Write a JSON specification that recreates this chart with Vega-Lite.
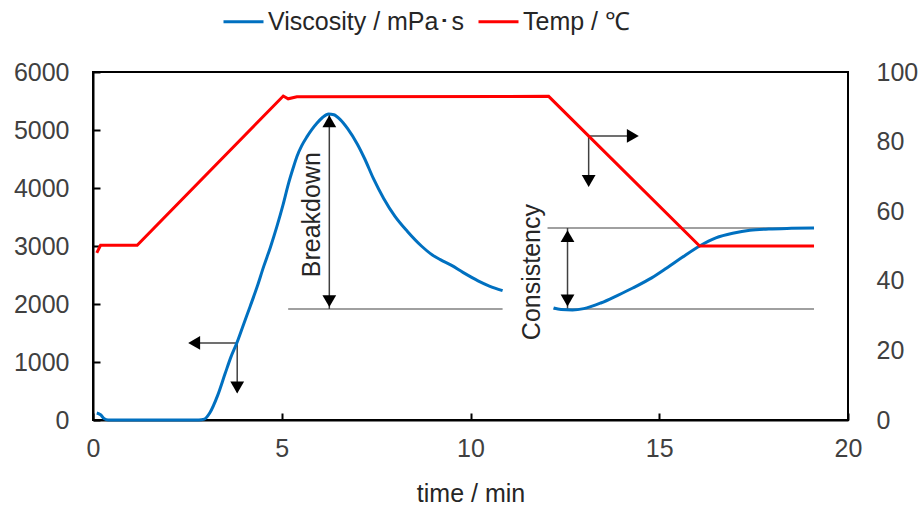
{
  "$schema": "https://vega.github.io/schema/vega-lite/v6.json",
  "width": 755,
  "height": 348,
  "autosize": "none",
  "padding": {"left": 93, "top": 72, "right": 76, "bottom": 90},
  "background": "white",
  "config": {
    "font": "Liberation Sans",
    "view": {"stroke": "#000000", "strokeWidth": 2},
    "axis": {"grid": false, "domainColor": "#000000", "domainWidth": 2, "tickColor": "#000000", "tickWidth": 2, "labelFontSize": 25, "labelColor": "#404040", "labelFont": "Liberation Sans", "titleFont": "Liberation Sans", "titleFontSize": 25, "titleFontWeight": "normal", "titleColor": "#262626", "labelFlush": false, "format": "d"},
    "axisLeft": {"tickSize": -7, "labelPadding": 31},
    "axisRight": {"ticks": false, "labelPadding": 28, "domain": false},
    "axisBottom": {"tickSize": -7, "labelPadding": 23, "titlePadding": 20},
    "legend": {"orient": "none", "legendX": 129, "legendY": -72, "direction": "horizontal", "symbolType": "stroke", "symbolSize": 1600, "symbolStrokeWidth": 3, "labelFontSize": 25, "labelColor": "#262626", "labelFont": "Liberation Sans", "labelOffset": 3, "columnPadding": 8, "labelLimit": 400, "title": null}
  },
  "datasets": {
    "visc": [
      {"t": 0.1, "v": 120, "seg": 1}, {"t": 0.2, "v": 90, "seg": 1}, {"t": 0.3, "v": 20, "seg": 1}, {"t": 0.4, "v": 0, "seg": 1},
      {"t": 1.0, "v": 0, "seg": 1}, {"t": 2.0, "v": 0, "seg": 1}, {"t": 2.8, "v": 0, "seg": 1}, {"t": 2.95, "v": 15, "seg": 1},
      {"t": 3.1, "v": 130, "seg": 1}, {"t": 3.3, "v": 420, "seg": 1}, {"t": 3.5, "v": 800, "seg": 1}, {"t": 3.65, "v": 1080, "seg": 1},
      {"t": 3.81, "v": 1328, "seg": 1}, {"t": 4.0, "v": 1670, "seg": 1}, {"t": 4.16, "v": 1954, "seg": 1}, {"t": 4.35, "v": 2300, "seg": 1},
      {"t": 4.52, "v": 2644, "seg": 1}, {"t": 4.7, "v": 2980, "seg": 1}, {"t": 4.87, "v": 3333, "seg": 1}, {"t": 5.03, "v": 3700, "seg": 1},
      {"t": 5.18, "v": 4080, "seg": 1}, {"t": 5.3, "v": 4340, "seg": 1}, {"t": 5.4, "v": 4540, "seg": 1}, {"t": 5.53, "v": 4730, "seg": 1},
      {"t": 5.67, "v": 4885, "seg": 1}, {"t": 5.8, "v": 5010, "seg": 1}, {"t": 5.93, "v": 5115, "seg": 1}, {"t": 6.08, "v": 5215, "seg": 1},
      {"t": 6.24, "v": 5276, "seg": 1}, {"t": 6.38, "v": 5262, "seg": 1}, {"t": 6.55, "v": 5180, "seg": 1}, {"t": 6.75, "v": 5020, "seg": 1},
      {"t": 7.0, "v": 4760, "seg": 1}, {"t": 7.2, "v": 4500, "seg": 1}, {"t": 7.43, "v": 4160, "seg": 1}, {"t": 7.7, "v": 3820, "seg": 1},
      {"t": 8.0, "v": 3510, "seg": 1}, {"t": 8.33, "v": 3250, "seg": 1}, {"t": 8.7, "v": 3000, "seg": 1}, {"t": 9.0, "v": 2840, "seg": 1},
      {"t": 9.2, "v": 2765, "seg": 1}, {"t": 9.5, "v": 2665, "seg": 1}, {"t": 9.8, "v": 2545, "seg": 1}, {"t": 10.2, "v": 2400, "seg": 1},
      {"t": 10.5, "v": 2310, "seg": 1}, {"t": 10.85, "v": 2230, "seg": 1},
      {"t": 12.2, "v": 1931, "seg": 2}, {"t": 12.4, "v": 1905, "seg": 2}, {"t": 12.7, "v": 1897, "seg": 2}, {"t": 13.0, "v": 1920, "seg": 2},
      {"t": 13.45, "v": 2017, "seg": 2}, {"t": 13.9, "v": 2150, "seg": 2}, {"t": 14.3, "v": 2276, "seg": 2}, {"t": 14.8, "v": 2450, "seg": 2},
      {"t": 15.2, "v": 2621, "seg": 2}, {"t": 15.6, "v": 2800, "seg": 2}, {"t": 16.07, "v": 3000, "seg": 2}, {"t": 16.5, "v": 3140, "seg": 2},
      {"t": 16.98, "v": 3224, "seg": 2}, {"t": 17.4, "v": 3270, "seg": 2}, {"t": 17.9, "v": 3293, "seg": 2}, {"t": 18.5, "v": 3305, "seg": 2},
      {"t": 19.1, "v": 3312, "seg": 2}
    ],
    "temp": [
      {"t": 0.1, "c": 48}, {"t": 0.2, "c": 50.2}, {"t": 1.17, "c": 50.2}, {"t": 5.04, "c": 93.1},
      {"t": 5.17, "c": 92.3}, {"t": 5.4, "c": 92.9}, {"t": 12.07, "c": 93.0}, {"t": 16.07, "c": 50.0}, {"t": 19.1, "c": 50.0}
    ],
    "hlines": [
      {"t": 5.17, "t2": 10.85, "v": 1914},
      {"t": 12.2, "t2": 19.1, "v": 1914},
      {"t": 12.04, "t2": 19.1, "v": 3310}
    ],
    "arrows": [
      {"t": 6.26, "t2": 6.26, "v": 1914, "v2": 5285},
      {"t": 12.57, "t2": 12.57, "v": 1914, "v2": 3310},
      {"t": 2.6, "t2": 3.82, "v": 1328, "v2": 1328},
      {"t": 3.82, "t2": 3.82, "v": 1328, "v2": 480},
      {"t": 13.13, "t2": 14.35, "v": 4897, "v2": 4897},
      {"t": 13.13, "t2": 13.13, "v": 4897, "v2": 4080}
    ],
    "heads": [
      {"t": 6.26, "v": 5150, "dir": "up"},
      {"t": 6.26, "v": 2050, "dir": "down"},
      {"t": 12.57, "v": 3170, "dir": "up"},
      {"t": 12.57, "v": 2060, "dir": "down"},
      {"t": 2.68, "v": 1328, "dir": "left"},
      {"t": 3.82, "v": 560, "dir": "down"},
      {"t": 14.3, "v": 4897, "dir": "right"},
      {"t": 13.13, "v": 4121, "dir": "down"}
    ],
    "labels": [
      {"t": 5.81, "v": 3540, "label": "Breakdown"},
      {"t": 11.64, "v": 2550, "label": "Consistency"}
    ]
  },
  "layer": [
    {
      "layer": [
        {
          "data": {"name": "hlines"},
          "mark": {"type": "rule", "color": "#808080", "strokeWidth": 1.5},
          "encoding": {
            "x": {"field": "t", "type": "quantitative", "scale": {"domain": [0, 20], "nice": false}, "axis": {"values": [0, 5, 10, 15, 20], "title": "time / min"}},
            "x2": {"field": "t2"},
            "y": {"field": "v", "type": "quantitative", "scale": {"domain": [0, 6000], "nice": false}, "axis": {"values": [0, 1000, 2000, 3000, 4000, 5000, 6000], "title": null, "orient": "left"}}
          }
        },
        {
          "data": {"name": "arrows"},
          "mark": {"type": "rule", "color": "#404040", "strokeWidth": 1.5},
          "encoding": {
            "x": {"field": "t", "type": "quantitative", "title": "time / min"},
            "x2": {"field": "t2"},
            "y": {"field": "v", "type": "quantitative", "title": null},
            "y2": {"field": "v2"}
          }
        },
        {
          "data": {"name": "visc"},
          "mark": {"type": "line", "strokeWidth": 3, "interpolate": "monotone"},
          "encoding": {
            "x": {"field": "t", "type": "quantitative", "title": "time / min"},
            "y": {"field": "v", "type": "quantitative", "title": null},
            "detail": {"field": "seg", "type": "nominal"},
            "color": {"datum": "Viscosity / mPa･s", "type": "nominal", "scale": {"domain": ["Viscosity / mPa･s", "Temp / ℃"], "range": ["#0070c0", "#ff0000"]}}
          }
        },
        {
          "data": {"name": "heads"},
          "mark": {"type": "point", "filled": true, "opacity": 1, "size": 190, "color": "#000000"},
          "encoding": {
            "x": {"field": "t", "type": "quantitative", "title": "time / min"},
            "y": {"field": "v", "type": "quantitative", "title": null},
            "shape": {"field": "dir", "type": "nominal", "legend": null, "scale": {"domain": ["up", "down", "left", "right"], "range": ["triangle-up", "triangle-down", "triangle-left", "triangle-right"]}}
          }
        },
        {
          "data": {"name": "labels"},
          "mark": {"type": "text", "angle": 270, "fontSize": 25, "color": "#262626", "align": "center", "baseline": "middle", "font": "Liberation Sans"},
          "encoding": {
            "x": {"field": "t", "type": "quantitative", "title": "time / min"},
            "y": {"field": "v", "type": "quantitative", "title": null},
            "text": {"field": "label"}
          }
        }
      ]
    },
    {
      "data": {"name": "temp"},
      "mark": {"type": "line", "strokeWidth": 3},
      "encoding": {
        "x": {"field": "t", "type": "quantitative", "title": "time / min"},
        "y": {"field": "c", "type": "quantitative", "scale": {"domain": [0, 100], "nice": false}, "axis": {"orient": "right", "values": [0, 20, 40, 60, 80, 100], "title": null}},
        "color": {"datum": "Temp / ℃", "type": "nominal"}
      }
    }
  ],
  "resolve": {"scale": {"y": "independent"}, "axis": {"y": "independent"}}
}
